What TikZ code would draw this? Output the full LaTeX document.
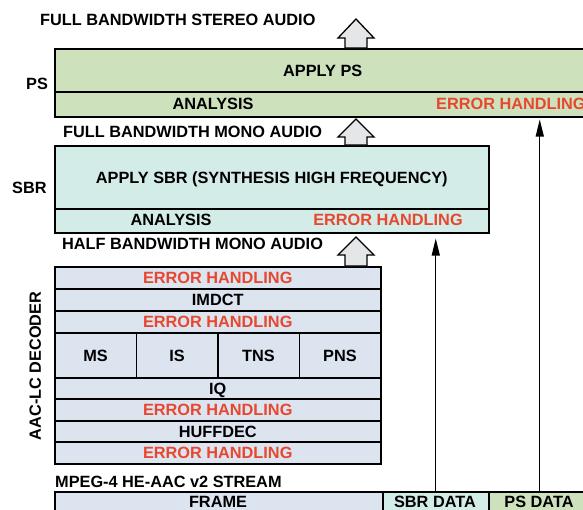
\documentclass[tikz,border=0pt]{standalone}
\usepackage{fontspec}
\setmainfont{Liberation Sans}
\usetikzlibrary{arrows.meta,calc}

\definecolor{psgreen}{HTML}{CDE1BD}
\definecolor{sbrcyan}{HTML}{D4ECE8}
\definecolor{aacblue}{HTML}{DCE4F0}
\definecolor{errred}{HTML}{E8472F}
\definecolor{arrowgray}{HTML}{E5E6E8}

% hollow up-arrow: centre x, tip y, head base y, bottom y
\newcommand\blockarrow[4]{%
  \draw[blockarr] (#1,#2) -- (#1+18,#3) -- (#1+11,#3) -- (#1+11,#4)
    -- (#1-11,#4) -- (#1-11,#3) -- (#1-18,#3) -- cycle;}

\begin{document}
\begin{tikzpicture}[x=1pt,y=-1pt,
  every node/.style={font=\fontsize{16.3}{19}\selectfont\bfseries,
    inner sep=0pt, text height=11.7pt, text depth=0pt},
  cell/.style={draw=black, line width=1.5pt, anchor=north west},
  err/.style={text=errred},
  lbl/.style={anchor=base west},
  blockarr/.style={draw=black, line width=1.3pt, fill=arrowgray, line join=miter},
  feed/.style={line width=1.3pt, -{Triangle[length=17pt,width=8pt]}},
]
\useasboundingbox (0,0) rectangle (583,509);
\clip (0,0) rectangle (583,509);

% ---------------- PS stage ----------------
\node[cell, fill=psgreen, minimum width=536pt, minimum height=43pt] (psapply) at (54,48) {APPLY PS};
\node[cell, fill=psgreen, minimum width=536pt, minimum height=25pt] (psrow) at (54,91) {};
\node (psana) at (213,103.5) {ANALYSIS};
\node[err, anchor=west] (pserr) at (436,103.5) {ERROR HANDLING};
\node[lbl] (pslbl) at (26,89) {PS};
\node[lbl] (stereo) at (40,25.7) {FULL BANDWIDTH STEREO AUDIO};

% ---------------- SBR stage ----------------
\node[cell, fill=sbrcyan, minimum width=434pt, minimum height=63pt] (sbrapply) at (54,145) {APPLY SBR (SYNTHESIS HIGH FREQUENCY)};
\node[cell, fill=sbrcyan, minimum width=434pt, minimum height=24pt] (sbrrow) at (54,208) {};
\node (sbrana) at (171,220) {ANALYSIS};
\node[err] (sbrerr) at (388,220) {ERROR HANDLING};
\node[lbl] (sbrlbl) at (12,193) {SBR};
\node[lbl] (mono) at (63,137) {FULL BANDWIDTH MONO AUDIO};
\node[lbl] (half) at (62,249) {HALF BANDWIDTH MONO AUDIO};

% ---------------- AAC-LC decoder stack ----------------
\tikzset{aac/.style={cell, fill=aacblue, minimum width=326pt}}
\node[aac, err, minimum height=22pt] (eh1) at (54,266) {ERROR HANDLING};
\node[aac, minimum height=22pt] (imdct) at (54,288) {IMDCT};
\node[aac, err, minimum height=22pt] (eh2) at (54,310) {ERROR HANDLING};
\node[cell, fill=aacblue, minimum width=81.5pt, minimum height=45pt] (ms) at (54,332) {MS};
\node[cell, fill=aacblue, minimum width=81.5pt, minimum height=45pt] (is) at (135.5,332) {IS};
\node[cell, fill=aacblue, minimum width=81.5pt, minimum height=45pt] (tns) at (217,332) {TNS};
\node[cell, fill=aacblue, minimum width=81.5pt, minimum height=45pt] (pns) at (298.5,332) {PNS};
\node[aac, minimum height=21pt] (iq) at (54,377) {IQ};
\node[aac, err, minimum height=22pt] (eh3) at (54,398) {ERROR HANDLING};
\node[aac, minimum height=21pt] (huff) at (54,420) {HUFFDEC};
\node[aac, err, minimum height=22pt] (eh4) at (54,441) {ERROR HANDLING};
\node[rotate=90] (aaclbl) at (35,366) {AAC-LC DECODER};

% ---------------- bitstream ----------------
\node[lbl] (stream) at (55,487) {MPEG-4 HE-AAC v2 STREAM};
\node[cell, fill=aacblue, minimum width=328pt, minimum height=24pt] (frame) at (54,491) {};
\node (frametxt) at (218,501.5) {FRAME};
\node[cell, fill=sbrcyan, minimum width=106pt, minimum height=24pt] (sbrdata) at (382,491) {};
\node (sbrdatatxt) at (435,501.5) {SBR DATA};
\node[cell, fill=psgreen, minimum width=102pt, minimum height=24pt] (psdata) at (488,491) {};
\node (psdatatxt) at (539,501.5) {PS DATA};

% ---------------- side data feeds ----------------
\draw[feed] ($(sbrdata.north west)!0.5!(sbrdata.north east)$) coordinate (sbrfoot)
  -- ($(sbrfoot |- sbrrow.south)+(0,5)$);
\draw[feed] ($(psdata.north west)!0.5!(psdata.north east)$) coordinate (psfoot)
  -- ($(psfoot |- psrow.south)+(0,2)$);

% ---------------- signal flow ----------------
\blockarrow{356}{237}{255}{266}
\blockarrow{356}{119}{137}{145}
\blockarrow{356}{19}{38}{48}
\end{tikzpicture}
\end{document}
